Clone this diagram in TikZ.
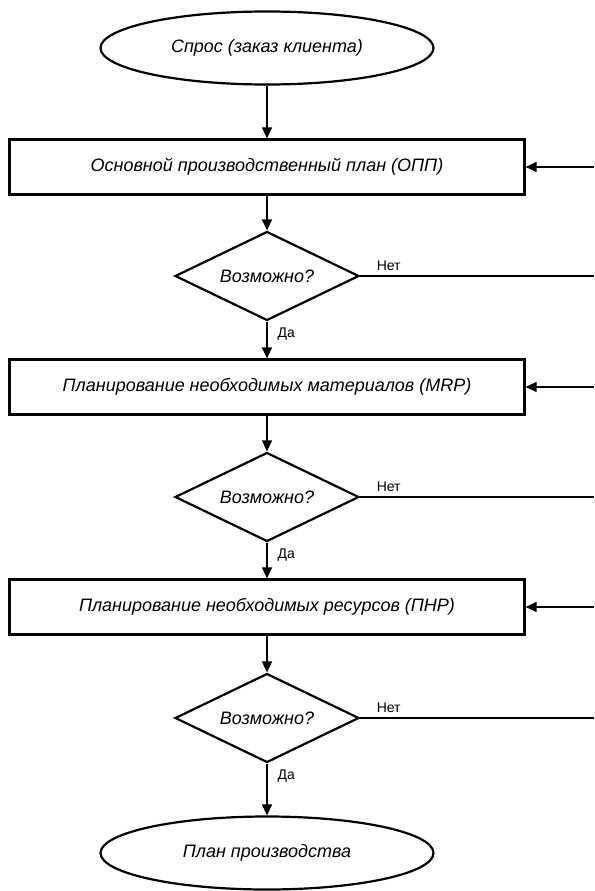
\documentclass[tikz,border=0pt]{standalone}
\usepackage{fontspec}
\setmainfont{Liberation Sans}
\usetikzlibrary{shapes.geometric,arrows.meta}
\begin{document}
\begin{tikzpicture}[x=1pt,y=-1pt,
  every node/.style={font=\fontsize{18}{21}\selectfont\itshape},
  shapeline/.style={draw=black,line width=2.2pt},
  terminal/.style={shapeline,ellipse,minimum width=333pt,minimum height=73pt,inner sep=0pt},
  process/.style={shapeline,rectangle,minimum width=515pt,minimum height=55pt,inner sep=0pt},
  decision/.style={shapeline,diamond,shape aspect=2,minimum width=184pt,minimum height=89pt,inner sep=0pt},
  flow/.style={draw=black,line width=1.4pt,-{Triangle[length=11pt,width=10pt]}},
  plain/.style={draw=black,line width=1.4pt},
  answer/.style={font=\fontsize{14}{16}\selectfont\upshape,inner sep=0pt}
]
\useasboundingbox (0,0) rectangle (594,891);
\coordinate (edge) at (594,0);

\node[terminal] (start) at (267,48) {Спрос (заказ клиента)};
\node[process]  (mps)   at (267,167) {Основной производственный план (ОПП)};
\node[decision] (q1)    at (267,276) {Возможно?};
\node[process]  (mrp)   at (267,387) {Планирование необходимых материалов (MRP)};
\node[decision] (q2)    at (267,497) {Возможно?};
\node[process]  (rrp)   at (267,607) {Планирование необходимых ресурсов (ПНР)};
\node[decision] (q3)    at (267,718) {Возможно?};
\node[terminal] (plan)  at (267,853) {План производства};

% main vertical flow
\draw[flow] (start) -- (mps);
\draw[flow] (mps) -- (q1);
\draw[flow] (q1) -- node[answer,at start,anchor=north west,xshift=10pt,yshift=-6pt] {Да} (mrp);
\draw[flow] (mrp) -- (q2);
\draw[flow] (q2) -- node[answer,at start,anchor=north west,xshift=10pt,yshift=-6pt] {Да} (rrp);
\draw[flow] (rrp) -- (q3);
\draw[flow] (q3) -- node[answer,at start,anchor=north west,xshift=10pt,yshift=-6pt] {Да} (plan);

% "no" branches leaving to the right
\draw[plain] (q1.east) -- node[answer,at start,anchor=south west,xshift=16pt,yshift=5pt] {Нет} (q1.east -| edge);
\draw[plain] (q2.east) -- node[answer,at start,anchor=south west,xshift=16pt,yshift=5pt] {Нет} (q2.east -| edge);
\draw[plain] (q3.east) -- node[answer,at start,anchor=south west,xshift=16pt,yshift=5pt] {Нет} (q3.east -| edge);

% return arrows entering the planning boxes
\draw[flow] (mps.east -| edge) -- (mps.east);
\draw[flow] (mrp.east -| edge) -- (mrp.east);
\draw[flow] (rrp.east -| edge) -- (rrp.east);
\end{tikzpicture}
\end{document}
